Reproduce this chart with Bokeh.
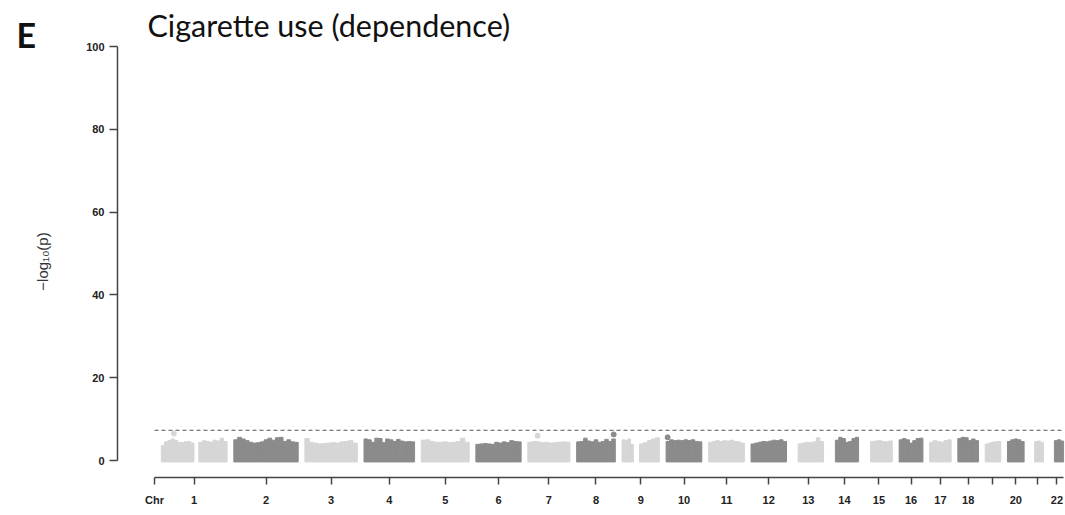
import math
from bokeh.plotting import figure
from bokeh.models import Range1d, FixedTicker, Label, ColumnDataSource
from bokeh.embed import file_html
from bokeh.resources import INLINE

# ---------------- data ----------------
chromosomes = list(range(1, 23))
chr_len_mb = [249.25, 243.20, 198.02, 191.15, 180.92, 171.12, 159.14, 146.36,
              141.21, 135.53, 135.01, 133.85, 115.17, 107.35, 102.53, 90.35,
              81.20, 78.08, 59.13, 63.03, 48.13, 51.30]
gap_mb = 25
hidden_tick_labels = [19, 21]

# data segments (chromosome, start Mb, end Mb) and envelope of -log10(p) across each segment
seg_chrom = [1, 1, 2, 3, 4, 5, 6, 7, 8, 9, 9, 10, 11, 12, 13, 14, 15, 16, 17, 18, 19, 20, 21, 22]
seg_start = [0.8, 142, 0.1, 0.1, 0.1, 0.1, 0.2, 0.1, 0.2, 0.2, 66, 0.2, 0.2, 0.2,
             19.1, 19.5, 20.1, 0.1, 0.1, 0.1, 0.3, 0.1, 14.5, 16.1]
seg_end = [124, 249, 243, 198, 191, 181, 171, 159, 146, 43, 141, 135, 135, 134,
           115, 107, 102, 90, 81, 78, 59, 63, 48, 51]
seg_tops = [
    [3.6, 4.5, 4.8, 5.2, 4.8, 4.4, 4.3, 4.5, 4.6, 4.2],
    [4.4, 4.8, 4.6, 4.4, 4.9, 4.7, 5.4, 4.6],
    [5.0, 5.6, 5.2, 4.8, 4.4, 4.2, 4.3, 4.5, 5.0, 5.4, 4.9, 5.5, 5.6, 4.6, 5.0, 4.5, 4.4],
    [5.3, 4.4, 4.2, 4.0, 4.1, 4.2, 4.3, 4.2, 4.5, 4.6, 4.8, 4.2],
    [5.2, 5.0, 4.4, 5.4, 5.3, 4.3, 5.2, 5.0, 4.6, 5.1, 4.7, 4.5, 4.6, 4.5],
    [4.9, 5.0, 4.6, 4.4, 4.4, 4.5, 4.3, 4.4, 4.6, 5.4, 4.4],
    [3.9, 4.0, 4.1, 4.0, 3.9, 4.4, 4.2, 4.5, 4.3, 4.8, 4.6, 4.5],
    [4.4, 4.6, 4.5, 4.3, 4.4, 4.2, 4.3, 4.4, 4.5, 4.4],
    [4.5, 4.6, 5.4, 4.7, 4.5, 5.0, 4.4, 4.6, 5.1, 4.6, 5.2],
    [5.0, 4.8, 5.2, 3.9],
    [4.0, 4.3, 4.8, 5.2, 5.5],
    [4.6, 5.0, 4.8, 4.9, 4.8, 5.0, 4.8, 5.0, 4.6, 4.5],
    [4.4, 4.6, 4.8, 4.6, 4.8, 4.7, 4.9, 4.6, 4.5, 4.2],
    [4.0, 4.2, 4.4, 4.6, 4.5, 4.7, 4.9, 4.8, 5.0, 4.6],
    [4.0, 4.2, 4.4, 4.3, 4.5, 5.5, 4.6],
    [4.9, 5.6, 5.3, 4.4, 4.6, 5.3, 5.6],
    [4.6, 4.7, 4.8, 4.6, 4.5, 4.7],
    [5.0, 5.3, 5.0, 4.2, 4.8, 5.3, 5.4],
    [4.4, 4.8, 4.6, 4.4, 4.8, 5.0],
    [5.3, 5.6, 5.5, 4.8, 5.2, 4.8],
    [4.0, 4.3, 4.5, 4.6],
    [4.6, 5.0, 5.2, 5.0, 4.6],
    [4.6, 4.7, 4.4],
    [4.8, 5.0, 4.7],
]
# isolated top SNPs
dot_chrom = [1, 7, 8, 10]
dot_pos_mb = [48, 37, 140, 6]
dot_log10p = [6.5, 6.0, 6.3, 5.6]

significance = 7.3
light_grey = "#d6d6d6"
dark_grey = "#8b8b8b"

title_text = "Cigarette use (dependence)"
panel_letter = "E"
y_title = "−log₁₀(p)"

# ---------------- layout of the genome axis ----------------
chr_offset = {}
pos = gap_mb
for c, L in zip(chromosomes, chr_len_mb):
    chr_offset[c] = pos
    pos += L + gap_mb
genome_end = chr_offset[22] + chr_len_mb[-1]
centers = [round(chr_offset[c] + L / 2, 2) for c, L in zip(chromosomes, chr_len_mb)]

def chr_color(c):
    return light_grey if c % 2 == 1 else dark_grey

left, right, top, colors = [], [], [], []
for c, s, e, tops in zip(seg_chrom, seg_start, seg_end, seg_tops):
    w = (e - s) / len(tops)
    for i, t in enumerate(tops):
        left.append(chr_offset[c] + s + i * w)
        right.append(chr_offset[c] + s + (i + 1) * w)
        top.append(t)
        colors.append(chr_color(c))
blocks = ColumnDataSource(dict(left=left, right=right, top=top, color=colors))

dots = ColumnDataSource(dict(
    x=[chr_offset[c] + p for c, p in zip(dot_chrom, dot_pos_mb)],
    y=dot_log10p,
    color=[chr_color(c) for c in dot_chrom],
))

# ---------------- figure ----------------
W, H = 1065, 515
FRAME_L, FRAME_R, FRAME_T, FRAME_B = 10, 1064, 0, 477
px_per_mb = 0.265
x0_px = 154                    # where genome position 0 ("Chr") sits
x_start = -(x0_px - FRAME_L) / px_per_mb
x_end = (FRAME_R - x0_px) / px_per_mb
yaxis_at = (117 - x0_px) / px_per_mb   # data x where the y axis is drawn

y0_px, y100_px = 460.0, 46.0           # pixel rows of 0 and 100
px_per_unit = (y0_px - y100_px) / 100
y_start = -(FRAME_B - y0_px) / px_per_unit
y_end = (y0_px - FRAME_T) / px_per_unit

p = figure(width=W, height=H, output_backend="svg", toolbar_location=None,
           x_range=Range1d(x_start, x_end), y_range=Range1d(y_start, y_end),
           min_border_left=FRAME_L, min_border_right=W - FRAME_R,
           min_border_top=FRAME_T, min_border_bottom=H - FRAME_B)
p.grid.visible = False
p.outline_line_color = None
p.background_fill_color = "white"
p.title.text = ""
p.title.visible = False

p.quad(left="left", right="right", bottom=-0.35, top="top", source=blocks,
       fill_color="color", line_color="color", line_width=1)
p.scatter(x="x", y="y", source=dots, size=5, fill_color="color", line_color="color")
p.segment(x0=0, y0=significance, x1=genome_end, y1=significance,
          line_color="#555555", line_width=1, line_dash="4 3")

axis_col = "#444444"
tick_font = "Liberation Sans"

ya = p.yaxis[0]
ya.fixed_location = yaxis_at
ya.bounds = (0, 100)
ya.ticker = FixedTicker(ticks=[0, 20, 40, 60, 80, 100])
ya.major_tick_out = 8
ya.major_tick_in = 0
ya.minor_tick_out = 0
ya.minor_tick_in = 0
ya.axis_line_color = axis_col
ya.axis_line_width = 1.5
ya.major_tick_line_color = axis_col
ya.major_tick_line_width = 1.5
ya.major_label_text_font = tick_font
ya.major_label_text_font_style = "bold"
ya.major_label_text_font_size = "11px"
ya.major_label_text_color = "#222222"
ya.major_label_standoff = 5

xa = p.xaxis[0]
xa.bounds = (0, genome_end)
xa.ticker = FixedTicker(ticks=[0] + centers)
overrides = {0: "Chr"}
for c, cx in zip(chromosomes, centers):
    overrides[cx] = "" if c in hidden_tick_labels else str(c)
xa.major_label_overrides = overrides
xa.major_tick_out = 7
xa.major_tick_in = 0
xa.minor_tick_out = 0
xa.minor_tick_in = 0
xa.axis_line_color = axis_col
xa.axis_line_width = 1.5
xa.major_tick_line_color = axis_col
xa.major_tick_line_width = 1.5
xa.major_label_text_font = tick_font
xa.major_label_text_font_style = "bold"
xa.major_label_text_font_size = "11px"
xa.major_label_text_color = "#222222"
xa.major_label_standoff = 9

# y axis title
p.add_layout(Label(x=42 - FRAME_L, y=FRAME_B - 261, x_units="screen", y_units="screen",
                   text=y_title, angle=math.pi / 2,
                   text_font=tick_font, text_font_size="15px", text_color="#333333",
                   text_align="center", text_baseline="middle"))

# chart title
p.add_layout(Label(x=147 - FRAME_L, y=FRAME_B - 24, x_units="screen", y_units="screen",
                   text=title_text, text_font="Lato", text_font_size="30.5px",
                   text_color="#111111", text_baseline="alphabetic"))

# panel letter
p.add_layout(Label(x=16 - FRAME_L, y=FRAME_B - 34, x_units="screen", y_units="screen",
                   text=panel_letter, text_font="Lato", text_font_style="bold",
                   text_font_size="34px", text_baseline="alphabetic", text_color="#111111"))

open("out.html", "w").write(file_html(p, INLINE))
